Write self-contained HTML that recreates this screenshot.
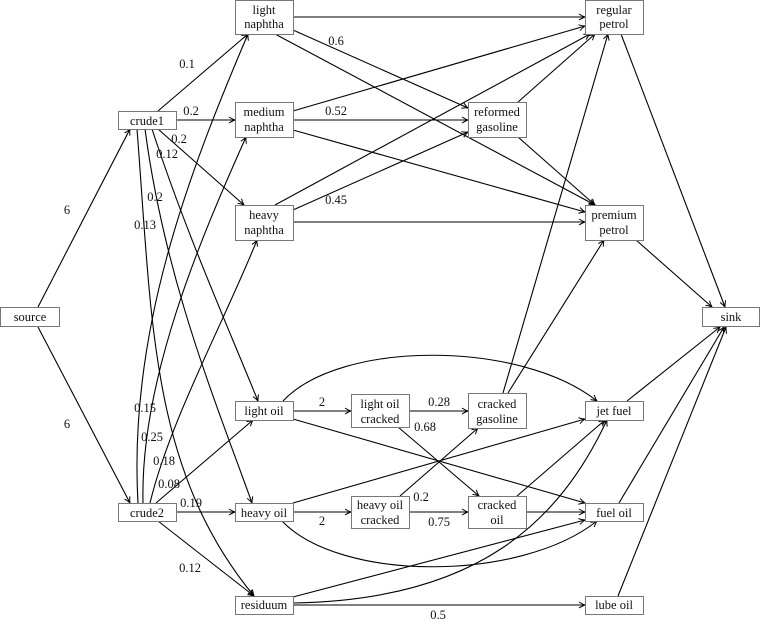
<!DOCTYPE html>
<html><head><meta charset="utf-8"><style>
html,body{margin:0;padding:0;background:#fff}
svg{display:block}
text{font-family:"Liberation Serif",serif;font-size:12.5px;fill:#111}
</style></head><body>
<svg width="762" height="619" viewBox="0 0 762 619" xmlns="http://www.w3.org/2000/svg">
<defs>
<marker id="a" markerWidth="8" markerHeight="8" refX="7" refY="4" orient="auto" markerUnits="userSpaceOnUse">
<path d="M1,1 Q4,3 7,4 Q4,5 1,7" fill="none" stroke="#000" stroke-width="1"/>
</marker>
</defs>
<g fill="none" stroke="#000" stroke-width="1.1" marker-end="url(#a)">
<!-- source -->
<line x1="38" y1="307" x2="130" y2="129"/>
<line x1="38" y1="327" x2="130" y2="503"/>
<!-- crude1 -->
<line x1="158" y1="111" x2="248" y2="34"/>
<line x1="176" y1="120" x2="235" y2="120"/>
<line x1="158" y1="129" x2="244" y2="205"/>
<path d="M152,129 C185,230 225,320 258,401"/>
<path d="M145,129 C165,280 215,400 252,503"/>
<path d="M137,129 C152,320 150,470 254,596"/>
<!-- crude2 -->
<path d="M138,503 C128,330 190,170 248,34"/>
<path d="M143,503 C140,380 200,240 246,137"/>
<path d="M150,503 C170,420 225,320 257,240"/>
<line x1="156" y1="503" x2="253" y2="420"/>
<line x1="176" y1="512" x2="235" y2="512"/>
<line x1="158" y1="521" x2="254" y2="596"/>
<!-- naphthas -->
<line x1="293" y1="17" x2="585" y2="17"/>
<line x1="293" y1="30" x2="468" y2="108"/>
<line x1="275" y1="34" x2="595" y2="205"/>
<line x1="293" y1="111" x2="585" y2="26"/>
<line x1="293" y1="120" x2="468" y2="120"/>
<line x1="293" y1="130" x2="585" y2="212"/>
<line x1="275" y1="205" x2="590" y2="34"/>
<line x1="293" y1="210" x2="468" y2="132"/>
<line x1="293" y1="222" x2="585" y2="222"/>
<line x1="518" y1="102" x2="595" y2="34"/>
<line x1="518" y1="137" x2="595" y2="205"/>
<line x1="621" y1="34" x2="725" y2="307"/>
<line x1="636" y1="240" x2="712" y2="307"/>
<!-- oils -->
<line x1="293" y1="411" x2="351" y2="411"/>
<path d="M283,401 C340,340 520,340 597,401"/>
<line x1="293" y1="419" x2="585" y2="503"/>
<line x1="409" y1="411" x2="468" y2="411"/>
<line x1="398" y1="427" x2="479" y2="496"/>
<line x1="293" y1="512" x2="351" y2="512"/>
<line x1="293" y1="503" x2="585" y2="419"/>
<path d="M282,521 C340,582 520,582 597,521"/>
<line x1="400" y1="496" x2="478" y2="428"/>
<line x1="409" y1="512" x2="468" y2="512"/>
<line x1="503" y1="393" x2="608" y2="34"/>
<line x1="508" y1="393" x2="604" y2="240"/>
<line x1="517" y1="496" x2="605" y2="420"/>
<line x1="526" y1="512" x2="585" y2="512"/>
<line x1="293" y1="597" x2="585" y2="520"/>
<path d="M293,603 C480,600 560,520 607,420"/>
<line x1="293" y1="605" x2="585" y2="605"/>
<line x1="627" y1="401" x2="720" y2="327"/>
<line x1="619" y1="503" x2="724" y2="327"/>
<line x1="618" y1="596" x2="726" y2="327"/>
</g>
<g fill="#fff" stroke="#777" stroke-width="1">
<rect x="0.5" y="307.5" width="59" height="19"/>
<rect x="118.5" y="111.5" width="58" height="18"/>
<rect x="118.5" y="503.5" width="58" height="18"/>
<rect x="235.5" y="0.5" width="58" height="34"/>
<rect x="235.5" y="102.5" width="58" height="35"/>
<rect x="235.5" y="205.5" width="58" height="35"/>
<rect x="235.5" y="401.5" width="58" height="19"/>
<rect x="235.5" y="503.5" width="58" height="18"/>
<rect x="235.5" y="596.5" width="58" height="18"/>
<rect x="351.5" y="394.5" width="58" height="33"/>
<rect x="351.5" y="496.5" width="58" height="32"/>
<rect x="468.5" y="393.5" width="58" height="35"/>
<rect x="468.5" y="496.5" width="58" height="32"/>
<rect x="468.5" y="102.5" width="58" height="35"/>
<rect x="585.5" y="0.5" width="58" height="34"/>
<rect x="585.5" y="205.5" width="58" height="35"/>
<rect x="585.5" y="401.5" width="58" height="19"/>
<rect x="585.5" y="503.5" width="58" height="18"/>
<rect x="585.5" y="596.5" width="58" height="18"/>
<rect x="702.5" y="307.5" width="57" height="19"/>
</g>
<g text-anchor="middle">
<text x="30" y="321">source</text>
<text x="147" y="125">crude1</text>
<text x="147" y="517">crude2</text>
<text x="264" y="14">light</text><text x="264" y="28">naphtha</text>
<text x="264" y="116">medium</text><text x="264" y="131">naphtha</text>
<text x="264" y="219">heavy</text><text x="264" y="234">naphtha</text>
<text x="264" y="415">light oil</text>
<text x="264" y="517">heavy oil</text>
<text x="264" y="609">residuum</text>
<text x="380" y="408">light oil</text><text x="380" y="423">cracked</text>
<text x="380" y="509">heavy oil</text><text x="380" y="524">cracked</text>
<text x="497" y="408">cracked</text><text x="497" y="423">gasoline</text>
<text x="497" y="509">cracked</text><text x="497" y="524">oil</text>
<text x="497" y="116">reformed</text><text x="497" y="131">gasoline</text>
<text x="614" y="14">regular</text><text x="614" y="28">petrol</text>
<text x="614" y="219">premium</text><text x="614" y="234">petrol</text>
<text x="614" y="415">jet fuel</text>
<text x="614" y="517">fuel oil</text>
<text x="614" y="609">lube oil</text>
<text x="731" y="321">sink</text>
<text x="67" y="214">6</text>
<text x="67" y="428">6</text>
<text x="187" y="68">0.1</text>
<text x="191" y="115">0.2</text>
<text x="179" y="143">0.2</text>
<text x="167" y="158">0.12</text>
<text x="155" y="201">0.2</text>
<text x="145" y="229">0.13</text>
<text x="145" y="412">0.15</text>
<text x="152" y="441">0.25</text>
<text x="164" y="465">0.18</text>
<text x="169" y="488">0.08</text>
<text x="191" y="507">0.19</text>
<text x="190" y="572">0.12</text>
<text x="336" y="45">0.6</text>
<text x="336" y="115">0.52</text>
<text x="336" y="204">0.45</text>
<text x="322" y="406">2</text>
<text x="322" y="525">2</text>
<text x="439" y="406">0.28</text>
<text x="425" y="431">0.68</text>
<text x="421" y="501">0.2</text>
<text x="439" y="526">0.75</text>
<text x="438" y="619">0.5</text>
</g>
</svg>
</body></html>
